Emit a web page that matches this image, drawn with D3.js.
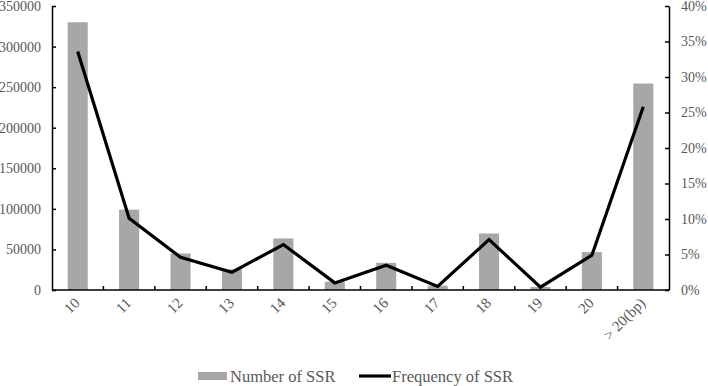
<!DOCTYPE html>
<html>
<head>
<meta charset="utf-8">
<script src="https://cdn.jsdelivr.net/npm/d3@7"></script>
<style>
  body { margin: 0; background: #fff; }
  svg text { font-family: "Liberation Serif", "Times New Roman", serif; fill: #595959; }
</style>
</head>
<body>
<svg id="chart" width="708" height="386"></svg>
<script>
// categories (repeat length)
const categories = ["10", "11", "12", "13", "14", "15", "16", "17", "18", "19", "20", "> 20(bp)"];
// number of SSR (left axis)
const ssrCounts = [330000, 99000, 45000, 25500, 63500, 10200, 33500, 5300, 69600, 3700, 46700, 254500];
// frequency of SSR, in percent (right axis)
const ssrFreq = [33.6, 10.1, 4.6, 2.5, 6.4, 1.0, 3.5, 0.5, 7.1, 0.4, 4.9, 25.8];
const leftTicks = [0, 50000, 100000, 150000, 200000, 250000, 300000, 350000];
const rightTicks = [0, 5, 10, 15, 20, 25, 30, 35, 40];

const svg = d3.select("#chart");
const margin = { top: 6, right: 39, bottom: 96, left: 52 };
const width = 708 - margin.left - margin.right;
const height = 386 - margin.top - margin.bottom;

const g = svg.append("g")
    .attr("transform", `translate(${margin.left}, ${margin.top})`);

const x = d3.scaleBand().domain(categories).range([0, width]);
const yLeft = d3.scaleLinear().domain([0, 350000]).range([height, 0]);
const yRight = d3.scaleLinear().domain([0, 40]).range([height, 0]);

const barW = x.bandwidth() * 0.39;

// bars
g.selectAll(".bar")
    .data(categories)
    .enter().append("rect")
    .attr("class", "bar")
    .attr("x", d => x(d) + (x.bandwidth() - barW) / 2)
    .attr("width", barW)
    .attr("y", (d, i) => yLeft(ssrCounts[i]))
    .attr("height", (d, i) => height - yLeft(ssrCounts[i]))
    .attr("fill", "#a9a6a6");

// line
const line = d3.line()
    .x((d, i) => x(categories[i]) + x.bandwidth() / 2)
    .y(d => yRight(d));

g.append("path")
    .datum(ssrFreq)
    .attr("d", line)
    .attr("fill", "none")
    .attr("stroke", "#000")
    .attr("stroke-width", 3.2)
    .attr("stroke-linejoin", "miter");

// left axis
const leftAxis = g.append("g")
    .call(d3.axisLeft(yLeft).tickValues(leftTicks).tickSizeInner(-4).tickSizeOuter(0).tickPadding(11).tickFormat(d3.format("d")));
leftAxis.select(".domain").attr("stroke", "#000").attr("stroke-width", 1.5);
leftAxis.selectAll(".tick line").attr("stroke", "#000").attr("stroke-width", 1.5);
leftAxis.selectAll("text").style("font-size", "14px").attr("fill", "#595959");

// right axis
const rightAxis = g.append("g")
    .attr("transform", `translate(${width}, 0)`)
    .call(d3.axisRight(yRight).tickValues(rightTicks).tickSizeInner(-4).tickSizeOuter(0).tickPadding(12).tickFormat(d => d + "%"));
rightAxis.select(".domain").attr("stroke", "#000").attr("stroke-width", 1.5);
rightAxis.selectAll(".tick line").attr("stroke", "#000").attr("stroke-width", 1.5);
rightAxis.selectAll("text").style("font-size", "14px").attr("fill", "#595959");

// bottom axis with ticks at category boundaries
g.append("line")
    .attr("x1", 0).attr("x2", width)
    .attr("y1", height).attr("y2", height)
    .attr("stroke", "#000").attr("stroke-width", 1.5);

g.selectAll(".xtick")
    .data(categories.slice(1))
    .enter().append("line")
    .attr("class", "xtick")
    .attr("x1", d => x(d)).attr("x2", d => x(d))
    .attr("y1", height).attr("y2", height - 4)
    .attr("stroke", "#000").attr("stroke-width", 1.5);

g.selectAll(".xlabel")
    .data(categories)
    .enter().append("text")
    .attr("class", "xlabel")
    .attr("text-anchor", "end")
    .attr("transform", d => `translate(${x(d) + x.bandwidth() / 2 + 3}, ${height + 14}) rotate(-45)`)
    .style("font-size", "15px")
    .text(d => d);

// legend
const legend = svg.append("g").attr("transform", "translate(0, 376)");
legend.append("rect")
    .attr("x", 198).attr("y", -4).attr("width", 29).attr("height", 8)
    .attr("fill", "#a9a6a6");
legend.append("text")
    .attr("x", 230).attr("y", 0).attr("dy", "0.35em")
    .style("font-size", "16.5px")
    .text("Number of SSR");
legend.append("line")
    .attr("x1", 359).attr("x2", 391).attr("y1", 0).attr("y2", 0)
    .attr("stroke", "#000").attr("stroke-width", 3.2);
legend.append("text")
    .attr("x", 392).attr("y", 0).attr("dy", "0.35em")
    .style("font-size", "16.5px")
    .text("Frequency of SSR");
</script>
</body>
</html>
